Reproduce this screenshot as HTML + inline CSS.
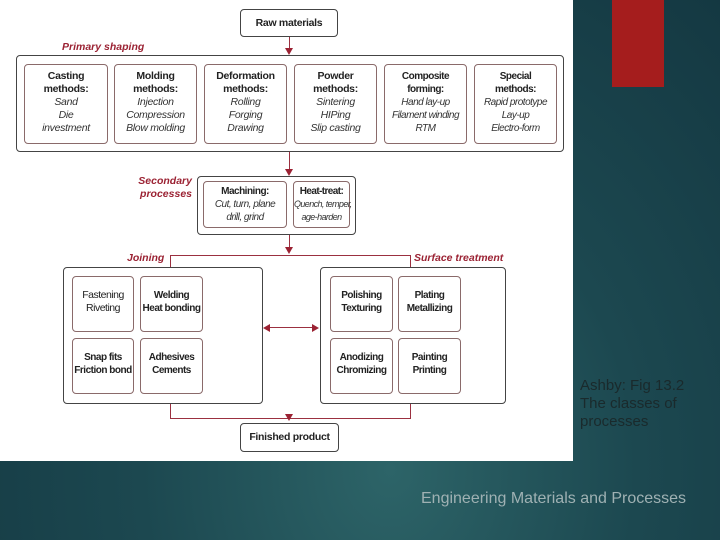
<!DOCTYPE html>
<html><head><meta charset="utf-8"><style>
body{margin:0;width:720px;height:540px;overflow:hidden;background:radial-gradient(ellipse at 390px 470px,#2d6468 0%,#1c4850 45%,#133640 100%);font-family:"Liberation Sans",sans-serif;position:relative}
.w{position:absolute;left:0;top:0;width:573px;height:461px;background:#fff}
.b{position:absolute;border:1px solid #444;border-radius:4px;box-sizing:border-box;text-align:center;font-size:10.5px;line-height:13px;color:#222;white-space:nowrap;letter-spacing:-0.3px}
.i{border-color:#8a6a6a}
.s{font-size:10px;letter-spacing:-0.5px}
.b b{font-weight:bold}
.b i{font-style:italic;color:#333}
.l{position:absolute;color:#9b2233;font-weight:bold;font-style:italic;font-size:10.5px}
.h{position:absolute;background:#9b3040}
.ar{position:absolute;width:0;height:0;border-left:4px solid transparent;border-right:4px solid transparent;border-top:7px solid #9b2233}
</style></head><body>
<div class="w"></div>
<div style="position:absolute;left:612px;top:0;width:52px;height:87px;background:#a51d1d"></div>

<div class="b" style="left:240px;top:9px;width:98px;height:28px;line-height:26px;font-weight:bold">Raw materials</div>
<div class="h" style="left:289px;top:37px;width:1px;height:12px"></div><div class="ar" style="left:285px;top:48px"></div>
<div class="l" style="left:62px;top:41px">Primary shaping</div>
<div class="b" style="left:16px;top:55px;width:548px;height:97px"></div>
<div class="b i" style="left:24px;top:64px;width:84px;height:80px;padding-top:5px"><b>Casting<br>methods:</b><br><i>Sand<br>Die<br>investment</i></div>
<div class="b i" style="left:114px;top:64px;width:83px;height:80px;padding-top:5px"><b>Molding<br>methods:</b><br><i>Injection<br>Compression<br>Blow molding</i></div>
<div class="b i" style="left:204px;top:64px;width:83px;height:80px;padding-top:5px"><b>Deformation<br>methods:</b><br><i>Rolling<br>Forging<br>Drawing</i></div>
<div class="b i" style="left:294px;top:64px;width:83px;height:80px;padding-top:5px"><b>Powder<br>methods:</b><br><i>Sintering<br>HIPing<br>Slip casting</i></div>
<div class="b i s" style="left:384px;top:64px;width:83px;height:80px;padding-top:5px"><b>Composite<br>forming:</b><br><i>Hand lay-up<br>Filament winding<br>RTM</i></div>
<div class="b i s" style="left:474px;top:64px;width:83px;height:80px;padding-top:5px"><b>Special<br>methods:</b><br><i>Rapid prototype<br>Lay-up<br>Electro-form</i></div>

<div class="h" style="left:289px;top:152px;width:1px;height:18px"></div><div class="ar" style="left:285px;top:169px"></div>
<div class="l" style="left:120px;top:175px;width:72px;text-align:right;line-height:13px">Secondary processes</div>
<div class="b" style="left:197px;top:176px;width:159px;height:59px"></div>
<div class="b i s" style="left:203px;top:181px;width:84px;height:47px;padding-top:3px"><b>Machining:</b><br><i>Cut, turn, plane<br>drill, grind</i></div>
<div class="b i" style="left:293px;top:181px;width:57px;height:47px;padding-top:3px;font-size:9px;letter-spacing:-0.6px"><b style="font-size:10px">Heat-treat:</b><br><i>Quench, temper,<br>age-harden</i></div>

<div class="h" style="left:289px;top:235px;width:1px;height:17px"></div><div class="ar" style="left:285px;top:247px"></div>
<div class="h" style="left:170px;top:255px;width:241px;height:1px"></div>
<div class="h" style="left:170px;top:255px;width:1px;height:13px"></div>
<div class="h" style="left:410px;top:255px;width:1px;height:13px"></div>
<div class="l" style="left:127px;top:252px">Joining</div>
<div class="l" style="left:414px;top:252px">Surface treatment</div>

<div class="b" style="left:63px;top:267px;width:200px;height:137px"></div>
<div class="b i s" style="left:72px;top:276px;width:62px;height:56px;padding-top:12px;font-size:10.5px">Fastening<br>Riveting</div>
<div class="b i s" style="left:140px;top:276px;width:63px;height:56px;padding-top:12px;font-weight:bold">Welding<br>Heat bonding</div>
<div class="b i s" style="left:72px;top:338px;width:62px;height:56px;padding-top:12px;font-weight:bold">Snap fits<br>Friction bond</div>
<div class="b i s" style="left:140px;top:338px;width:63px;height:56px;padding-top:12px;font-weight:bold">Adhesives<br>Cements</div>

<div class="b" style="left:320px;top:267px;width:186px;height:137px"></div>
<div class="b i s" style="left:330px;top:276px;width:63px;height:56px;padding-top:12px;font-weight:bold">Polishing<br>Texturing</div>
<div class="b i s" style="left:398px;top:276px;width:63px;height:56px;padding-top:12px;font-weight:bold">Plating<br>Metallizing</div>
<div class="b i s" style="left:330px;top:338px;width:63px;height:56px;padding-top:12px;font-weight:bold">Anodizing<br>Chromizing</div>
<div class="b i s" style="left:398px;top:338px;width:63px;height:56px;padding-top:12px;font-weight:bold">Painting<br>Printing</div>

<div class="h" style="left:268px;top:327px;width:46px;height:1px"></div>
<div style="position:absolute;left:263px;top:324px;border-top:4px solid transparent;border-bottom:4px solid transparent;border-right:7px solid #9b2233"></div>
<div style="position:absolute;left:312px;top:324px;border-top:4px solid transparent;border-bottom:4px solid transparent;border-left:7px solid #9b2233"></div>

<div class="h" style="left:170px;top:404px;width:1px;height:14px"></div>
<div class="h" style="left:410px;top:404px;width:1px;height:14px"></div>
<div class="h" style="left:170px;top:418px;width:241px;height:1px"></div>
<div class="ar" style="left:285px;top:414px"></div>
<div class="b" style="left:240px;top:423px;width:99px;height:29px;line-height:27px;font-weight:bold">Finished product</div>

<div style="position:absolute;left:580px;top:377px;font-size:15px;line-height:18px;color:#1a2a2c">Ashby: Fig 13.2<br>The classes of<br>processes</div>
<div style="position:absolute;left:421px;top:490px;font-size:16px;color:#9fb1b3">Engineering Materials and Processes</div>
</body></html>
